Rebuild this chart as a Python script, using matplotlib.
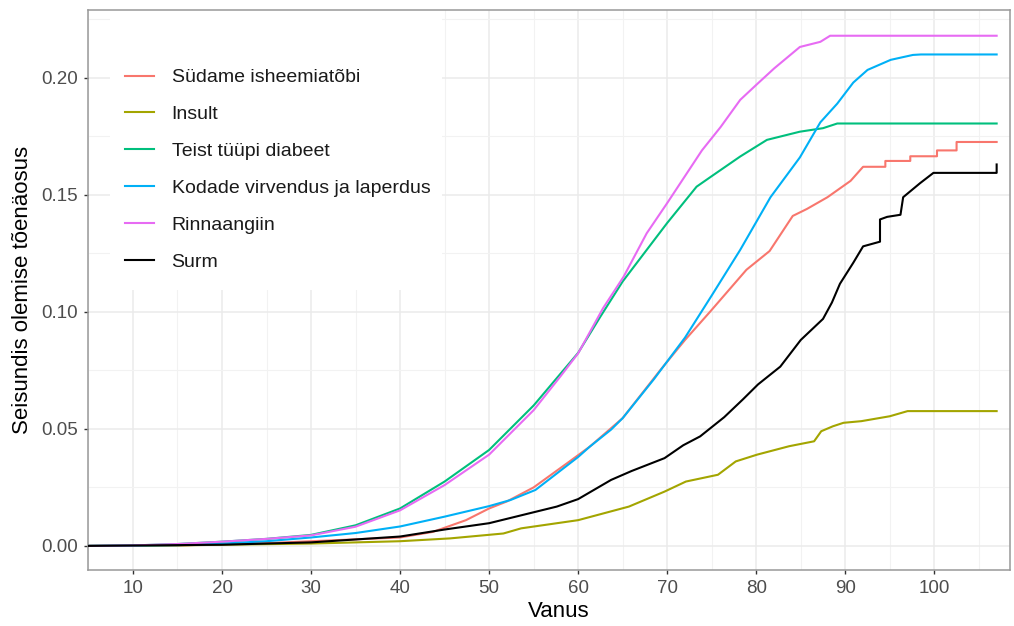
import matplotlib
matplotlib.use("Agg")
import matplotlib.pyplot as plt
from matplotlib.patches import Rectangle
from matplotlib.ticker import MultipleLocator

plt.rcParams['font.family'] = ['Liberation Sans', 'DejaVu Sans']

# kumulatiivne tõenäosus vanuse järgi (loetud jooniselt)
labels = ["Südame isheemiatõbi", "Insult", "Teist tüüpi diabeet",
          "Kodade virvendus ja laperdus", "Rinnaangiin", "Surm"]
colors = ["#F8766D", "#A3A500", "#00BF7D", "#00B0F6", "#E76BF3", "#000000"]

ihd_age = [5, 15, 20, 25, 30, 35, 40, 43.7, 47.4, 50, 52, 55, 59, 61.3, 65, 69.2, 72, 74.8,
           78.9, 81.5, 84.1, 85.7, 88, 90.6, 92, 94.5, 94.5, 97.3, 97.3, 100.3, 100.3,
           102.5, 102.5, 107]
ihd_val = [0, 0.0002, 0.0007, 0.0012, 0.002, 0.0028, 0.0036, 0.006, 0.011, 0.016, 0.019, 0.025,
           0.036, 0.0424, 0.0546, 0.075, 0.088, 0.100, 0.118, 0.126, 0.141, 0.144, 0.149, 0.156,
           0.162, 0.162, 0.1645, 0.1645, 0.1665, 0.1665, 0.169, 0.169, 0.1726, 0.1726]

stroke_age = [5, 15, 20, 30, 40, 45.6, 51.6, 53.6, 60, 65.7, 69.7, 72.1, 75.7, 77.7, 80.1, 83.7,
              86.5, 87.3, 88.6, 89.8, 91.8, 95, 97, 107]
stroke_val = [0, 0.0002, 0.0005, 0.001, 0.002, 0.0032, 0.0053, 0.0075, 0.011, 0.0168, 0.0232,
              0.0275, 0.0304, 0.0361, 0.039, 0.0426, 0.0447, 0.049, 0.0511, 0.0526, 0.0533,
              0.0554, 0.0576, 0.0576]

dm_age = [5, 10, 15, 20, 25, 30, 35, 40, 45, 50, 55, 58, 60, 62.5, 65, 70, 73.3, 75, 78.2, 81.2,
          84.9, 87.5, 89.1, 107]
dm_val = [0, 0.0002, 0.0008, 0.0018, 0.003, 0.0047, 0.0088, 0.016, 0.0275, 0.041, 0.06, 0.0735,
          0.0825, 0.098, 0.113, 0.138, 0.1535, 0.158, 0.1664, 0.1735, 0.177, 0.1785, 0.1805,
          0.1805]

af_age = [5, 15, 20, 25, 30, 35, 40, 45, 50, 52.4, 55.2, 60, 61.3, 63.7, 65, 68.5, 72, 75, 78.2,
          81.6, 84.9, 87.2, 89.1, 90.9, 92.5, 95.1, 97.6, 98.5, 107]
af_val = [0, 0.0003, 0.001, 0.002, 0.0036, 0.0055, 0.0083, 0.0125, 0.017, 0.0196, 0.0239, 0.038,
          0.0424, 0.0497, 0.0546, 0.0712, 0.089, 0.107, 0.1265, 0.149, 0.166, 0.181, 0.189,
          0.198, 0.2034, 0.2077, 0.2098, 0.210, 0.210]

ang_age = [5, 10, 15, 20, 25, 30, 35, 40, 45, 50, 55, 58, 60, 62.8, 65.1, 67.7, 70, 73.9, 76,
           78.2, 80, 82, 84.9, 87.2, 88.3, 107]
ang_val = [0, 0.0002, 0.0008, 0.0018, 0.003, 0.0045, 0.0082, 0.0152, 0.026, 0.039, 0.058, 0.0724,
           0.0823, 0.1016, 0.115, 0.1336, 0.1465, 0.169, 0.179, 0.1906, 0.197, 0.204, 0.2132,
           0.2154, 0.218, 0.218]

death_age = [5, 20, 30, 40, 45, 50, 57.6, 60, 63.7, 66, 69.7, 71.8, 73.7, 76.4, 78.5, 80.2, 82.7,
             85, 87.5, 88.5, 89.4, 90.9, 92, 93.9, 93.9, 94.7, 96.2, 96.5, 98.4, 99.9, 107, 107]
death_val = [0, 0.0005, 0.0015, 0.004, 0.007, 0.0097, 0.0168, 0.02, 0.0282, 0.032, 0.0375, 0.043,
             0.0468, 0.055, 0.0626, 0.069, 0.0766, 0.088, 0.097, 0.104, 0.112, 0.121, 0.128,
             0.130, 0.1395, 0.1406, 0.1415, 0.149, 0.155, 0.1594, 0.1594, 0.163]

series = [(ihd_age, ihd_val), (stroke_age, stroke_val), (dm_age, dm_val),
          (af_age, af_val), (ang_age, ang_val), (death_age, death_val)]

fig = plt.figure(figsize=(10.14, 6.26), dpi=100)
ax = fig.add_axes([88 / 1014, 56 / 626, 922 / 1014, 560 / 626])

for (a, v), lab, c in zip(series, labels, colors):
    ax.plot(a, v, color=c, lw=1.5, label=lab, zorder=3)

ax.set_xlim(4.95, 108.5)
ax.set_ylim(-0.0103, 0.229)
ax.xaxis.set_major_locator(MultipleLocator(10))
ax.xaxis.set_minor_locator(MultipleLocator(5))
ax.yaxis.set_major_locator(MultipleLocator(0.05))
ax.yaxis.set_minor_locator(MultipleLocator(0.025))
ax.yaxis.set_major_formatter(lambda y, p: f"{y:.2f}")

ax.set_axisbelow(True)
ax.grid(which='major', color='#EBEBEB', lw=1.1)
ax.grid(which='minor', color='#F2F2F2', lw=0.8)
ax.tick_params(which='major', length=3, width=1, color='#333333', labelcolor='#4D4D4D',
               labelsize=13.5, pad=4)
ax.tick_params(which='minor', length=0)
for s in ax.spines.values():
    s.set_color('#999999')
    s.set_linewidth(1.1)

ax.set_xlabel("Vanus", fontsize=16, labelpad=3)
ax.xaxis.set_label_coords(0.511, -0.055)
ax.set_ylabel("Seisundis olemise tõenäosus", fontsize=16, labelpad=6)

# legendi valge taust
ax.add_patch(Rectangle((0.024, 0.5), 0.36, 0.5, transform=ax.transAxes,
                       facecolor='white', edgecolor='none', zorder=2))
leg = ax.legend(loc='upper left', bbox_to_anchor=(0.040, 0.895), frameon=False, fontsize=14,
                borderpad=0, borderaxespad=0, handlelength=1.5, handletextpad=0.9,
                labelspacing=0.99)
for t in leg.get_texts():
    t.set_color('#1A1A1A')

fig.savefig("out.png", dpi=100)
